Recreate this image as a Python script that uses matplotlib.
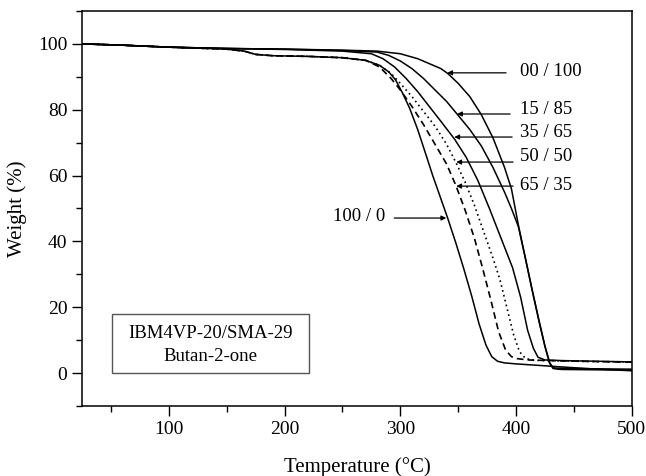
import matplotlib.pyplot as plt
import matplotlib.ticker as mticker

plt.rcParams['font.family'] = ['Liberation Serif', 'DejaVu Serif']

# TGA curves, weight (%) vs temperature (°C)
t_00_100 = [25, 60, 100, 150, 200, 250, 280, 300, 315, 325, 335, 341, 350, 360, 370, 380,
            390, 396, 402, 408, 414, 420, 425, 429, 432, 436, 440, 470, 500]
w_00_100 = [100, 99.6, 99, 98.6, 98.4, 98.1, 97.8, 97, 95.5, 94, 92.5, 91, 88, 84, 78.5, 71.5,
            62.5, 56, 45, 35, 25, 15.5, 8, 3, 1.4, 1.2, 1.1, 1.0, 0.9]

t_15_85 = [25, 60, 100, 150, 200, 250, 280, 290, 300, 310, 320, 330, 340, 349, 360, 370,
           380, 390, 396, 402, 408, 414, 420, 425, 429, 432, 436, 470, 500]
w_15_85 = [100, 99.6, 99, 98.6, 98.4, 98, 97.5, 96.5, 94.8, 92.5, 89.5, 86, 82.5, 78.7, 74, 69,
           62.5, 55, 50, 44.5, 35, 25.2, 15.7, 8.2, 3.2, 1.6, 1.5, 1.3, 1.2]

t_35_65 = [25, 60, 100, 150, 200, 250, 275, 285, 295, 305, 315, 325, 335, 347, 357, 367,
           377, 387, 397, 404, 410, 415, 419, 425, 440, 470, 500]
w_35_65 = [100, 99.6, 99, 98.6, 98.3, 97.8, 97, 95.5, 93, 89.5, 85.5, 81, 76.5, 71, 65.5, 58.5,
           50, 41, 32, 23, 13, 7.5, 4.8, 4.0, 3.8, 3.6, 3.4]

t_50_50 = [25, 60, 100, 150, 165, 175, 190, 220, 250, 270, 282, 292, 300, 310, 320, 330,
           340, 348, 356, 364, 372, 380, 386, 392, 398, 403, 408, 415, 440, 470, 500]
w_50_50 = [100, 99.6, 99, 98.4, 97.8, 96.8, 96.4, 96.2, 95.8, 95, 93.5, 91, 88, 84, 79.5, 75,
           69.5, 64, 58, 51, 43, 35, 28.5, 20, 11.5, 6.5, 4.5, 3.9, 3.7, 3.5, 3.4]

t_65_35 = [25, 60, 100, 150, 165, 175, 190, 220, 250, 270, 282, 292, 300, 310, 320, 330,
           340, 348, 356, 364, 371, 378, 385, 391, 396, 401, 410, 440, 470, 500]
w_65_35 = [100, 99.6, 99, 98.4, 97.8, 96.8, 96.4, 96.2, 95.8, 95, 93, 89.5, 86, 81, 75.5, 69.5,
           63.5, 57, 49.5, 41, 32, 22.5, 12.5, 7, 5, 4.4, 4.0, 3.7, 3.5, 3.3]

t_100_0 = [25, 60, 100, 150, 165, 175, 190, 220, 250, 270, 282, 290, 296, 302, 308, 315,
           322, 328, 334, 341, 348, 355, 362, 368, 374, 379, 384, 390, 400, 430, 460, 500]
w_100_0 = [100, 99.6, 99, 98.4, 97.8, 96.8, 96.4, 96.2, 95.8, 95, 93.5, 91.5, 89, 85, 80.5, 74,
           66.5, 60, 54, 47, 39.5, 31.5, 23, 15, 8.5, 5, 3.6, 3.1, 2.8, 2.1, 1.4, 0.7]

labels = ['00 / 100', '15 / 85', '35 / 65', '50 / 50', '65 / 35']
# arrow tip (x, y), arrow tail x, label y
tips = [(340.5, 91.2), (349, 78.7), (346.6, 71.7), (348.3, 64.1), (348.3, 56.8)]
tails = [391.4, 394.8, 396.6, 397.4, 397.4]
label_y = [91.5, 80.0, 73.0, 65.7, 57.1]

fig = plt.figure(figsize=(6.46, 4.76), dpi=100)
ax = fig.add_axes([0.127, 0.147, 0.851, 0.83])

ax.plot(t_00_100, w_00_100, color='black', lw=1.1)
ax.plot(t_15_85, w_15_85, color='black', lw=1.1)
ax.plot(t_35_65, w_35_65, color='black', lw=1.1)
ax.plot(t_50_50, w_50_50, color='black', lw=1.2, linestyle=(0, (1, 2)))
ax.plot(t_65_35, w_65_35, color='black', lw=1.2, linestyle=(0, (4, 2.5)))
ax.plot(t_100_0, w_100_0, color='black', lw=1.1)

arrow = dict(arrowstyle='-|>', color='black', lw=0.9, mutation_scale=7, shrinkA=0, shrinkB=0)
for lab, tip, tx, ly in zip(labels, tips, tails, label_y):
    ax.annotate('', xy=tip, xytext=(tx, tip[1]), arrowprops=arrow)
    ax.text(403.5, ly, lab, fontsize=13.5, ha='left', va='center')

ax.annotate('', xy=(339.7, 47.1), xytext=(294.8, 47.1), arrowprops=arrow)
ax.text(287, 47.6, '100 / 0', fontsize=13.5, ha='right', va='center')

# sample box
ax.add_patch(plt.Rectangle((0.054, 0.0835), 0.358, 0.15, transform=ax.transAxes,
                           fill=False, edgecolor='#555555', lw=1.0))
ax.text(0.233, 0.183, 'IBM4VP-20/SMA-29', transform=ax.transAxes, fontsize=13.5,
        ha='center', va='center')
ax.text(0.233, 0.125, 'Butan-2-one', transform=ax.transAxes, fontsize=13.5,
        ha='center', va='center')

ax.set_xlim(25, 500)
ax.set_ylim(-10, 110)
ax.xaxis.set_major_locator(mticker.MultipleLocator(100))
ax.xaxis.set_minor_locator(mticker.MultipleLocator(50))
ax.yaxis.set_major_locator(mticker.MultipleLocator(20))
ax.yaxis.set_minor_locator(mticker.MultipleLocator(10))
ax.tick_params(which='major', direction='out', length=7, width=1.0, labelsize=14)
ax.tick_params(which='minor', direction='out', length=4.5, width=1.0)
for s in ax.spines.values():
    s.set_linewidth(1.1)

ax.set_xlabel('Temperature (°C)', fontsize=15, labelpad=14)
ax.set_ylabel('Weight (%)', fontsize=15, labelpad=8)

fig.savefig('out.png', dpi=100)
